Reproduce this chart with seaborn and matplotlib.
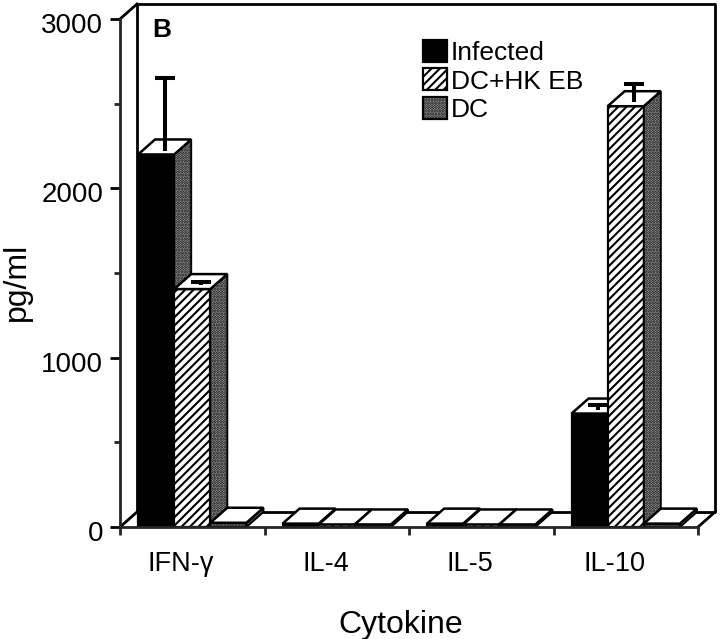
import matplotlib
matplotlib.use("Agg")
import matplotlib.pyplot as plt
from matplotlib.patches import Polygon
from matplotlib.transforms import ScaledTranslation
import pandas as pd
import seaborn as sns

cytokines = ["IFN-γ", "IL-4", "IL-5", "IL-10"]
groups = ["Infected", "DC+HK EB", "DC"]
infected = [2200, 20, 20, 670]
dc_hk = [1405, 15, 15, 2485]
dc = [25, 15, 15, 20]
infected_err = [432, 0, 0, 26]
dc_hk_err = [20, 0, 0, 108]
dc_err = [0, 0, 0, 0]

df = pd.DataFrame({
    "Cytokine": cytokines * 3,
    "group": sum([[g] * 4 for g in groups], []),
    "value": infected + dc_hk + dc,
})

sns.set_theme(style="ticks")
plt.rcParams["font.family"] = ["Liberation Sans", "DejaVu Sans"]
plt.rcParams["text.color"] = "black"
plt.rcParams["hatch.linewidth"] = 1.5

fig = plt.figure(figsize=(7.2, 6.39), dpi=100)
ax = fig.add_axes([120 / 720, 1 - 527 / 639, 578 / 720, 508 / 639])

sns.barplot(data=df, x="Cytokine", y="value", hue="group", order=cytokines, hue_order=groups,
            palette=["black", "white", "#b5b5b5"], width=0.75, gap=0, saturation=1,
            edgecolor="black", linewidth=1.6, legend=False, errorbar=None, ax=ax)

ax.set_xlim(-0.5, 3.5)
ax.set_ylim(0, 3000)

# depth of the fake 3d box, in data units
dx = 17 / 144.5
dy = 15 * 3000 / 508
grey_kw = dict(facecolor="#b5b5b5", edgecolor="black", hatch="......", linewidth=1.4)

# back walls and floor
x0, x1 = ax.get_xlim()
y0, y1 = ax.get_ylim()
line_kw = dict(color="black", lw=2, clip_on=False, zorder=1, solid_capstyle="projecting")
ax.plot([x0 + dx, x0 + dx, x1 + dx, x1 + dx, x0 + dx], [y0 + dy, y1 + dy, y1 + dy, y0 + dy, y0 + dy], **line_kw)
ax.plot([x0, x0 + dx], [y1, y1 + dy], **line_kw)
ax.plot([x0, x0 + dx], [y0, y0 + dy], **line_kw)
ax.plot([x1, x1 + dx], [y0, y0 + dy], **line_kw)

bars = list(ax.containers)
errs = [infected_err, dc_hk_err, dc_err]
z = 3
for col in range(4):
    for h, cont in enumerate(bars):
        bar = cont.patches[col]
        left = bar.get_x()
        right = left + bar.get_width()
        top = bar.get_height()
        if h == 1:
            bar.set_hatch("////")
        if h == 2:
            bar.set_hatch("......")
        bar.set_zorder(z)
        side = Polygon([(right, 0), (right + dx, dy), (right + dx, top + dy), (right, top)],
                       closed=True, zorder=z, clip_on=False, **grey_kw)
        lid = Polygon([(left, top), (left + dx, top + dy), (right + dx, top + dy), (right, top)],
                      closed=True, zorder=z, clip_on=False, facecolor="white", edgecolor="black", linewidth=1.8)
        ax.add_patch(side)
        ax.add_patch(lid)
        if errs[h][col] > 0:
            mid = (left + right + dx) / 2
            eb = ax.errorbar([mid], [top + dy / 4], yerr=[[0], [errs[h][col]]], color="black", elinewidth=2.9,
                             capsize=7.5, capthick=2.9, clip_on=False, zorder=z + 1)
            # only the upper cap is drawn
            eb[1][0].set_visible(False)
        z += 2

sns.despine(ax=ax)
ax.spines["left"].set_linewidth(2)
ax.spines["bottom"].set_linewidth(2)
ax.spines["left"].set_zorder(z + 2)
ax.spines["bottom"].set_zorder(z + 2)

ax.set_yticks([0, 1000, 2000, 3000])
ax.set_yticks([500, 1500, 2500], minor=True)
ax.tick_params(axis="y", which="major", length=7, width=2, labelsize=20, pad=5, colors="black")
ax.tick_params(axis="y", which="minor", length=4, width=2)
ax.set_xticks([-0.5, 0.5, 1.5, 2.5, 3.5], labels=[])
ax.set_xticks(range(4), labels=cytokines, minor=True)
ax.tick_params(axis="x", which="major", length=6, width=2)
ax.tick_params(axis="x", which="minor", length=0, labelsize=19.5, pad=17, colors="black")

for lab in ax.get_yticklabels():
    lab.set_transform(lab.get_transform() + ScaledTranslation(0, -4 / 100, fig.dpi_scale_trans))
for lab in ax.get_xticklabels(minor=True):
    lab.set_transform(lab.get_transform() + ScaledTranslation(-11 / 100, 0, fig.dpi_scale_trans))

ax.set_xlabel("Cytokine", fontsize=23, color="black")
ax.set_ylabel("pg/ml", fontsize=23, color="black")
ax.xaxis.set_label_coords(0.486, -0.164)
ax.yaxis.set_label_coords(-0.153, 0.482)

ax.text(0.0727, 0.978, "B", transform=ax.transAxes, fontsize=19, fontweight="bold", va="center", ha="center", zorder=z + 3)

handles = [cont.patches[0] for cont in bars]
leg = ax.legend(handles, groups, loc="upper left", bbox_to_anchor=(303 / 578, (527 - 40) / 508), frameon=False, fontsize=19,
                handlelength=0.9, handleheight=0.9, handletextpad=0.15, labelspacing=0.13, borderpad=0, borderaxespad=0)
leg.set_zorder(z + 3)

plt.savefig("out.png", dpi=100)
plt.close()
